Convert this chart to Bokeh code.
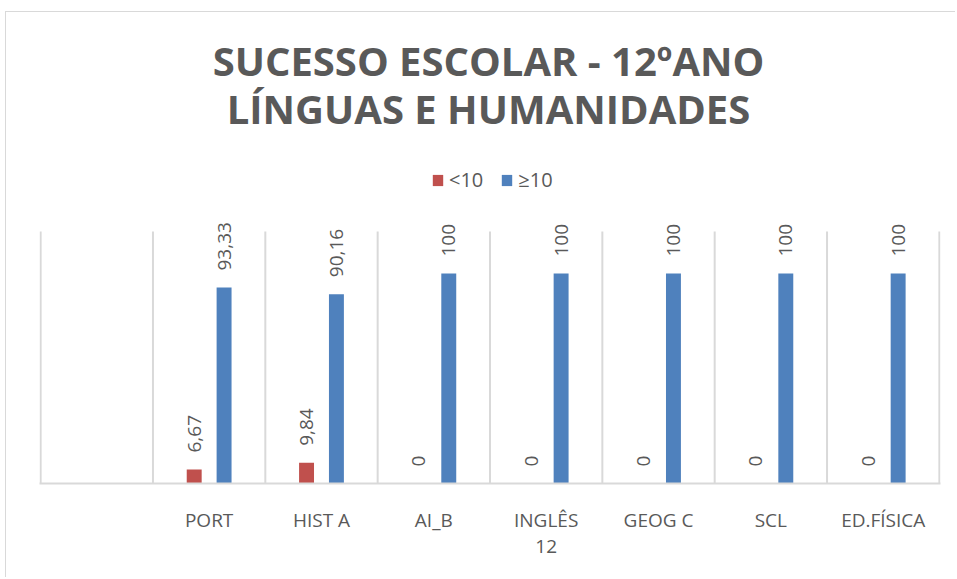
import math
from bokeh.plotting import figure
from bokeh.models import Range1d, FixedTicker, Legend, LegendItem, Label, ColumnDataSource
from bokeh.core.properties import value
from bokeh.embed import file_html
from bokeh.resources import INLINE

# ---- data -------------------------------------------------------------
categories = ["", "PORT", "HIST A", "AI_B", "INGLÊS 12", "GEOG C", "SCL", "ED.FÍSICA"]
tick_labels = ["", "PORT", "HIST A", "AI_B", "INGLÊS\n12", "GEOG C", "SCL", "ED.FÍSICA"]
below_10 = [None, 6.67, 9.84, 0, 0, 0, 0, 0]
at_least_10 = [None, 93.33, 90.16, 100, 100, 100, 100, 100]
series_names = ["<10", "≥10"]
title_lines = ["SUCESSO ESCOLAR - 12ºANO", "LÍNGUAS E HUMANIDADES"]
y_axis_max = 120

# ---- style / layout ---------------------------------------------------
RED = "#C0504D"
BLUE = "#4F81BD"
GRAY = "#595959"
GRID = "#D9D9D9"
FONT = "Open Sans"
BAR_W = 0.133
W, H = 950, 566
BORDER_BOTTOM = 95
FRAME_PX = H - BORDER_BOTTOM      # frame spans full height above the axis
GRID_PX = 252                     # pixel height of the gridded plot area
Y_TOP = y_axis_max * FRAME_PX / GRID_PX


def fmt(v):
    s = f"{v:.2f}".rstrip("0").rstrip(".")
    return s.replace(".", ",")


def make_source(vals, shift):
    idx = [i for i, v in enumerate(vals) if v is not None]
    return ColumnDataSource(dict(
        x=[i + 0.5 + shift for i in idx],
        top=[vals[i] for i in idx],
        label=[fmt(vals[i]) for i in idx],
    ))


n = len(categories)
p = figure(width=W, height=H, output_backend="svg", toolbar_location=None,
           x_range=Range1d(-0.01, n + 0.01), y_range=Range1d(0, Y_TOP), title=None,
           min_border_left=33, min_border_right=16, min_border_top=0,
           min_border_bottom=BORDER_BOTTOM,
           styles={"margin-left": "5px", "margin-top": "11px",
                   "border-left": f"1px solid {GRID}", "border-top": f"1px solid {GRID}"})
p.outline_line_color = None
p.background_fill_color = "white"
p.border_fill_color = "white"

# category separators (vertical grid lines limited to the value range)
bounds = list(range(n + 1))
p.segment(x0=bounds, x1=bounds, y0=[0] * len(bounds), y1=[y_axis_max] * len(bounds),
          line_color=GRID, line_width=2)

src_red = make_source(below_10, -BAR_W)
src_blue = make_source(at_least_10, BAR_W)

r_red = p.vbar(x="x", top="top", width=BAR_W, source=src_red, color=RED, line_color=None)
r_blue = p.vbar(x="x", top="top", width=BAR_W, source=src_blue, color=BLUE, line_color=None)

for src in (src_red, src_blue):
    p.text(x="x", y="top", text="label", source=src, angle=math.pi / 2,
           text_align="left", text_baseline="middle", y_offset=-17,
           text_font=value(FONT), text_font_size="19px", text_color=GRAY)

# axes / grid
p.yaxis.visible = False
p.xgrid.grid_line_color = None
p.ygrid.grid_line_color = None
tick_pos = [i + 0.5 for i in range(n) if tick_labels[i]]
p.xaxis.ticker = FixedTicker(ticks=tick_pos)
p.xaxis.major_label_overrides = {i + 0.5: tick_labels[i] for i in range(n) if tick_labels[i]}
p.xaxis.axis_line_color = GRID
p.xaxis.axis_line_width = 2
p.xaxis.major_tick_line_color = None
p.xaxis.minor_tick_line_color = None
p.xaxis.major_label_standoff = 17
p.xaxis.major_label_text_font = FONT
p.xaxis.major_label_text_font_size = "19px"
p.xaxis.major_label_text_line_height = 1.0
p.xaxis.major_label_text_color = GRAY

# legend (screen pixels from the frame's bottom-left corner)
legend = Legend(items=[LegendItem(label=series_names[0], renderers=[r_red]),
                       LegendItem(label=series_names[1], renderers=[r_blue])],
                orientation="horizontal", location=(392, 290),
                border_line_color=None, background_fill_alpha=0,
                label_text_font=FONT, label_text_font_size="20px",
                label_text_color=GRAY, glyph_width=13, glyph_height=14,
                spacing=17, label_standoff=5, padding=0, margin=0)
p.add_layout(legend)

# two-line title
for line, dy in zip(title_lines, (423, 375)):
    p.add_layout(Label(x=449, y=dy, x_units="screen", y_units="screen",
                       text=line, text_align="center", text_baseline="middle",
                       text_font=FONT, text_font_size="40px", text_font_style="bold",
                       text_color=GRAY))

open("out.html", "w").write(file_html(p, INLINE))
